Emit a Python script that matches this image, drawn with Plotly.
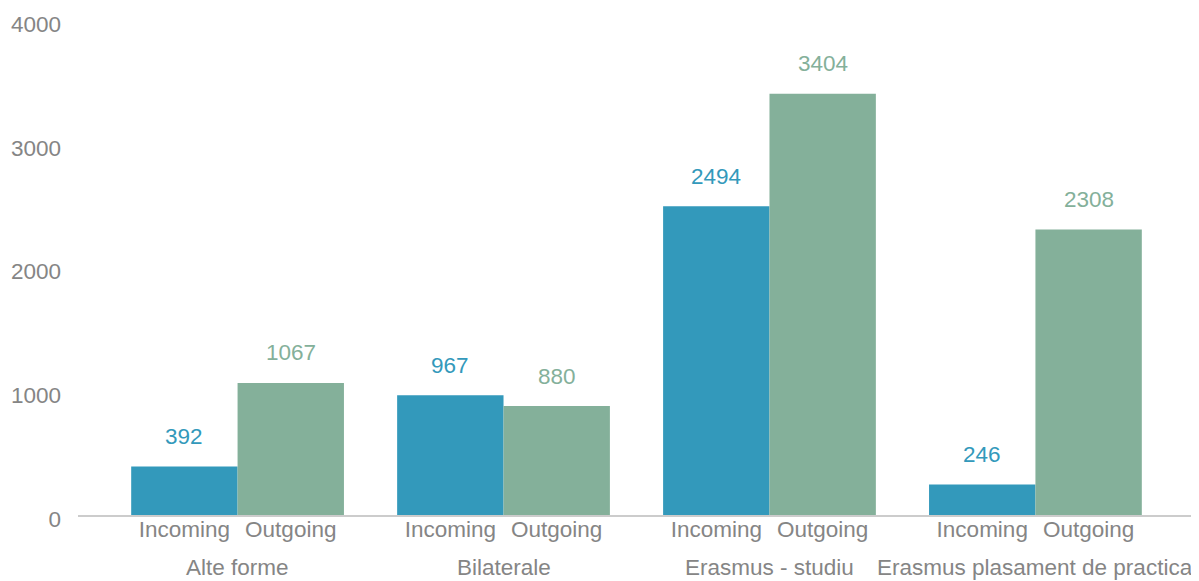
import plotly.graph_objects as go

groups = ["Alte forme", "Bilaterale", "Erasmus - studiu", "Erasmus plasament de practica"]
series_names = ["Incoming", "Outgoing"]
incoming = [392, 967, 2494, 246]
outgoing = [1067, 880, 3404, 2308]
y_ticks = [0, 1000, 2000, 3000, 4000]

BLUE = "#3399bb"
GREEN = "#84b09a"
GRAY = "#858585"
FONT = "Liberation Sans, Arial, sans-serif"
FS = 22.5

xpos = list(range(len(groups)))
half = 0.2

fig = go.Figure()
fig.add_trace(go.Bar(x=xpos, y=incoming, name=series_names[0], marker_color=BLUE, marker_line_width=0))
fig.add_trace(go.Bar(x=xpos, y=outgoing, name=series_names[1], marker_color=GREEN, marker_line_width=0))

tickvals, ticktext = [], []
for i in xpos:
    tickvals += [i - half, i + half]
    ticktext += series_names

annotations = []
for i in xpos:
    annotations.append(dict(x=i - half, y=incoming[i], text=str(incoming[i]), showarrow=False,
                            yshift=30, font=dict(color=BLUE, size=FS, family=FONT)))
    annotations.append(dict(x=i + half, y=outgoing[i], text=str(outgoing[i]), showarrow=False,
                            yshift=30, font=dict(color=GREEN, size=FS, family=FONT)))
    annotations.append(dict(x=i, y=0, yref="paper", text=groups[i], showarrow=False,
                            yshift=-52, yanchor="middle", font=dict(color=GRAY, size=FS, family=FONT)))

fig.update_layout(
    width=1191, height=573,
    margin=dict(l=70, r=4, t=12, b=66),
    paper_bgcolor="white", plot_bgcolor="white",
    barmode="group", bargap=0.2, bargroupgap=0,
    showlegend=False,
    font=dict(family=FONT, size=FS, color=GRAY),
    annotations=annotations,
    xaxis=dict(range=[-0.6, 3.6], tickvals=tickvals, ticktext=ticktext, showgrid=False,
               zeroline=False, showline=True, linecolor="#cccccc", linewidth=2, ticks="",
               ticklabelstandoff=-7, automargin=False, tickfont=dict(size=FS, color=GRAY)),
    yaxis=dict(range=[0, 4000], tickvals=y_ticks, showgrid=False, zeroline=False,
               showline=False, ticks="", ticklabelstandoff=16, ticklabelshift=4,
               ticklabeloverflow="allow", automargin=False, tickfont=dict(size=FS, color=GRAY)),
)

fig.write_html("out.html")
